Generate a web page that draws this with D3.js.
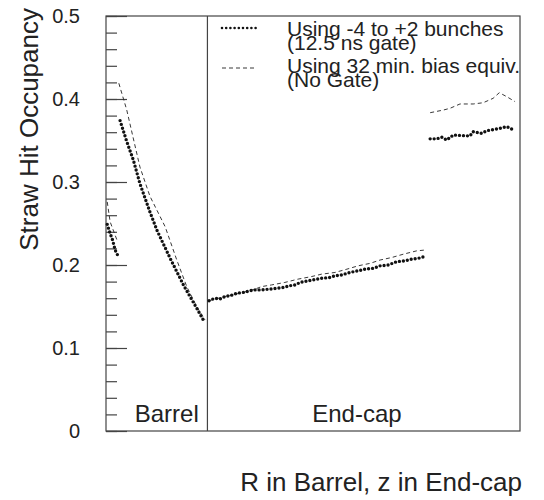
<!DOCTYPE html>
<html>
<head>
<meta charset="utf-8">
<script src="https://cdn.jsdelivr.net/npm/d3@7"></script>
<style>
  body { margin: 0; background: #fff; }
  text { font-family: "Liberation Sans", Arial, sans-serif; fill: #222; }
</style>
</head>
<body>
<div id="chart"></div>
<script>

// occupancy, gated (-4 to +2 bunches), position in % of the combined axis
const gatedBarrel1 = [[0.3,0.249],[1.0,0.238],[1.6,0.230],[2.2,0.218],[2.8,0.212]];
const gatedBarrel2 = [[3.4,0.374],[5.0,0.349],[6.6,0.3265],[8.2,0.298],[10.6,0.264],[12.3,0.242],
  [13.8,0.226],[15.5,0.208],[17.1,0.192],[18.7,0.176],[20.3,0.162],[21.9,0.148],[23.7,0.132]];
const gatedEndcap1 = [[24.9,0.157],[26.3,0.160],[27.5,0.159],[28.7,0.162],[30.0,0.163],[31.6,0.166],
  [33.2,0.167],[34.8,0.169],[36.0,0.170],[37.6,0.170],[39.6,0.171],[41.2,0.172],[42.8,0.173],
  [44.4,0.175],[45.7,0.176],[46.9,0.179],[48.9,0.181],[50.9,0.183],[52.1,0.184],[54.1,0.185],
  [55.3,0.187],[56.9,0.188],[58.9,0.191],[60.9,0.193],[62.6,0.195],[64.6,0.196],[66.2,0.199],
  [68.2,0.200],[70.2,0.204],[72.2,0.205],[73.8,0.207],[75.4,0.208],[76.8,0.210]];
const gatedEndcap2 = [[78.3,0.352],[79.9,0.352],[81.1,0.354],[82.3,0.3506],[83.9,0.3566],[87.9,0.3554],
  [88.7,0.3606],[90.7,0.3587],[92.0,0.3618],[95.2,0.3647],[96.8,0.3667],[98.8,0.3618]];

// occupancy, 32 min. bias equivalent (no gate)
const minbBarrel1 = [[0.3,0.276],[1.0,0.252],[2.8,0.228]];
const minbBarrel2 = [[3.1,0.419],[5.0,0.387],[8.2,0.318],[10.6,0.283],[14.3,0.246],[17.1,0.206],
  [19.5,0.174],[21.9,0.150],[23.9,0.134]];
const minbEndcap1 = [[24.9,0.157],[28.7,0.162],[33.2,0.167],[36.0,0.171],[37.6,0.174],[40.0,0.176],
  [43.2,0.179],[46.4,0.183],[49.6,0.186],[52.1,0.189],[55.3,0.191],[58.2,0.195],[60.9,0.199],
  [63.8,0.202],[66.2,0.206],[69.0,0.209],[71.8,0.213],[75.0,0.217],[77.0,0.218]];
const minbEndcap2 = [[78.3,0.3835],[81.5,0.3867],[83.1,0.3888],[85.5,0.394],[88.7,0.394],[91.1,0.3955],
  [93.5,0.4008],[95.0,0.4076],[96.8,0.4028],[98.8,0.3968]];

const regionNames = ["Barrel", "End-cap"];
const regionEdges = [0, 24.5, 100];
const regionLabelPos = [22.4, 60.6];
const yMajor = [0, 0.1, 0.2, 0.3, 0.4, 0.5];
const yMajorLabels = ["0", "0.1", "0.2", "0.3", "0.4", "0.5"];
const yMinor = d3.range(0, 0.5001, 0.02);
const legendLabels = [["Using -4 to +2 bunches", "(12.5 ns gate)"], ["Using 32 min. bias equiv.", "(No Gate)"]];

const width = 544;
const height = 500;
const margin = {top: 16, left: 106, right: 24, bottom: 69};

const svg = d3.select("#chart")
  .append("svg")
  .attr("width", width)
  .attr("height", height);

const x = d3.scaleLinear().domain([0, 100]).range([margin.left, width - margin.right]);
const y = d3.scaleLinear().domain([0, 0.5]).range([height - margin.bottom, margin.top]);

const frameColor = "#444";

/* frame */
svg.append("rect")
  .attr("x", x(0)).attr("y", y(0.5))
  .attr("width", x(100) - x(0)).attr("height", y(0) - y(0.5))
  .attr("fill", "none").attr("stroke", frameColor).attr("stroke-width", 1.2);

/* barrel / end-cap divider */
svg.append("line")
  .attr("x1", x(regionEdges[1])).attr("x2", x(regionEdges[1]))
  .attr("y1", y(0)).attr("y2", y(0.5))
  .attr("stroke", frameColor).attr("stroke-width", 1.2);

/* y axis ticks, drawn inwards */
const minorAxis = d3.axisLeft(y).tickValues(yMinor).tickSizeInner(-11).tickSizeOuter(0).tickFormat("");
svg.append("g").attr("transform", `translate(${margin.left},0)`).call(minorAxis)
  .call(g => g.select(".domain").remove())
  .call(g => g.selectAll("line").attr("stroke", frameColor).attr("stroke-width", 1.2));

const majorAxis = d3.axisLeft(y).tickValues(yMajor).tickSizeInner(-21).tickSizeOuter(0).tickPadding(26)
  .tickFormat((d, i) => yMajorLabels[i]);
svg.append("g").attr("transform", `translate(${margin.left},0)`).call(majorAxis)
  .call(g => g.select(".domain").remove())
  .call(g => g.selectAll("line").attr("stroke", frameColor).attr("stroke-width", 1.2))
  .call(g => g.selectAll("text").attr("font-size", 20).attr("fill", "#222")
    .style("font-family", "'Liberation Sans', Arial, sans-serif"));

/* axis titles */
svg.append("text")
  .attr("transform", "translate(38,8) rotate(-90)")
  .attr("text-anchor", "end")
  .attr("font-size", 26)
  .text("Straw Hit Occupancy");

svg.append("text")
  .attr("x", 522).attr("y", 491)
  .attr("text-anchor", "end")
  .attr("font-size", 26)
  .text("R in Barrel, z in End-cap");

/* region labels */
svg.selectAll(".region")
  .data(regionNames)
  .enter()
  .append("text")
  .attr("class", "region")
  .attr("x", (d, i) => x(regionLabelPos[i]))
  .attr("y", 422)
  .attr("text-anchor", (d, i) => i === 0 ? "end" : "middle")
  .attr("font-size", 24)
  .text(d => d);

/* curves */
const line = d3.line().x(d => x(d[0])).y(d => y(d[1]));

const dotted = {stroke: "#111", width: 3.4, dash: "0 4", cap: "round"};
const dashed = {stroke: "#222", width: 0.9, dash: "4 3", cap: "butt"};

function draw(pts, st) {
  svg.append("path")
    .attr("d", line(pts))
    .attr("fill", "none")
    .attr("stroke", st.stroke)
    .attr("stroke-width", st.width)
    .attr("stroke-dasharray", st.dash)
    .attr("stroke-linecap", st.cap);
}

[minbBarrel1, minbBarrel2, minbEndcap1, minbEndcap2].forEach(s => draw(s, dashed));
[gatedBarrel1, gatedBarrel2, gatedEndcap1, gatedEndcap2].forEach(s => draw(s, dotted));

/* legend */
const legendStyles = [dotted, dashed];
const legendY = [28, 68];
const legendTextY = [36, 73];
legendLabels.forEach((lines, i) => {
  svg.append("line")
    .attr("x1", 222).attr("x2", 257)
    .attr("y1", legendY[i]).attr("y2", legendY[i])
    .attr("stroke", legendStyles[i].stroke)
    .attr("stroke-width", i === 0 ? 2.6 : legendStyles[i].width)
    .attr("stroke-dasharray", i === 0 ? "0 4.2" : legendStyles[i].dash)
    .attr("stroke-linecap", legendStyles[i].cap);
  lines.forEach((t, j) => {
    svg.append("text")
      .attr("x", 287)
      .attr("y", legendTextY[i] + j * 14)
      .attr("font-size", 21)
      .text(t);
  });
});

</script>
</body>
</html>
